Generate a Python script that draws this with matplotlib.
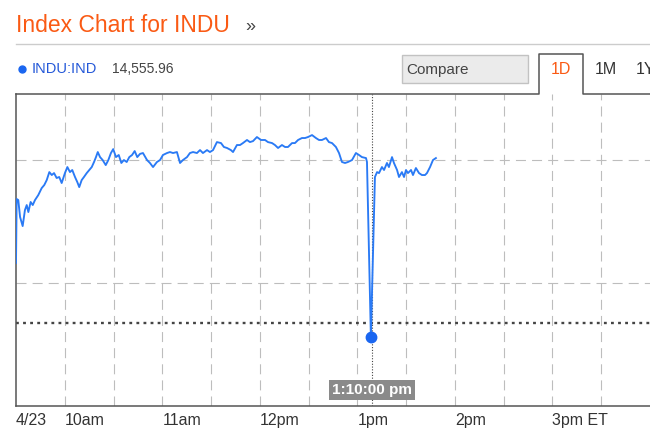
import matplotlib
matplotlib.use("Agg")
import matplotlib.pyplot as plt
from matplotlib.lines import Line2D
from matplotlib.patches import Rectangle

plt.rcParams['font.family'] = ['Liberation Sans', 'DejaVu Sans']

# minutes after 9:30 ET, Dow value
minutes = [0, 0.4, 1.4, 2.5, 4.1, 5.5, 6.6, 7.6, 9.0, 10.3, 11.7, 13.7, 15.8, 17.4,
           18.9, 20.5, 22.0, 23.4, 25.0, 26.6, 28.1, 30.1, 31.6, 33.2, 34.6, 36.3,
           37.7, 38.9, 40.4, 41.8, 43.5, 45.1, 46.6, 48.0, 49.2, 50.3, 51.7, 53.3,
           55.2, 56.8, 58.4, 59.8, 61.5, 63.2, 64.8, 66.4, 68.1, 69.7, 71.4, 73.0,
           74.6, 76.3, 78.1, 80.6, 82.4, 84.3, 86.7, 88.6, 90.4, 92.9, 94.7, 96.6,
           99.0, 100.9, 102.7, 105.2, 107.0, 108.9, 111.3, 113.2, 115.0, 117.5,
           119.3, 121.2, 123.6, 126.1, 127.9, 129.8, 132.2, 133.5, 135.9, 137.8,
           139.6, 142.1, 143.9, 145.8, 148.2, 150.7, 153.2, 155.0, 157.5, 159.3,
           161.2, 163.6, 165.5, 167.3, 169.8, 171.6, 173.5, 175.9, 177.8, 179.6,
           182.1, 184.5, 186.4, 188.2, 190.7, 192.5, 194.4, 196.8, 198.7, 200.5,
           202.4, 204.2, 206.7, 209.1, 211.0, 212.8, 215.3, 215.9, 218.3, 220.8,
           222.1, 223.3, 225.1, 226.4, 228.2, 229.4, 231.3, 232.5, 234.4, 235.6,
           237.4, 238.7, 239.9, 241.1, 243.0, 244.2, 246.0, 247.9, 249.7, 251.6,
           252.8, 254.7, 256.5, 258.3]
values = [14616.3, 14668.3, 14667.5, 14653.7, 14646.3, 14659.3, 14663.4, 14657.7,
          14665.9, 14663.4, 14667.5, 14671.5, 14677.2, 14679.7, 14683.7, 14690.2,
          14687.8, 14689.4, 14685.4, 14686.2, 14681.3, 14689.4, 14694.3, 14690.2,
          14691.9, 14686.2, 14682.1, 14678.0, 14683.7, 14686.2, 14689.4, 14691.9,
          14694.3, 14698.4, 14702.4, 14706.5, 14702.4, 14700.0, 14695.9, 14700.0,
          14705.7, 14708.9, 14702.4, 14704.1, 14697.6, 14700.0, 14698.4, 14702.4,
          14704.1, 14707.3, 14702.4, 14705.0, 14705.7, 14700.0, 14697.6, 14694.3,
          14698.4, 14700.0, 14704.1, 14705.7, 14706.5, 14705.7, 14706.5, 14697.6,
          14700.0, 14702.4, 14705.7, 14706.5, 14705.7, 14708.1, 14705.7, 14708.1,
          14706.5, 14708.1, 14714.6, 14713.8, 14710.6, 14709.8, 14708.1, 14706.5,
          14712.2, 14712.2, 14713.8, 14716.3, 14714.6, 14715.4, 14718.7, 14716.3,
          14716.3, 14714.6, 14713.8, 14712.2, 14709.8, 14712.2, 14710.6, 14710.6,
          14713.8, 14713.8, 14716.3, 14717.9, 14717.9, 14718.7, 14720.3, 14717.9,
          14716.3, 14716.3, 14717.9, 14714.6, 14713.8, 14710.6, 14705.7, 14698.4,
          14697.6, 14698.4, 14700.0, 14705.7, 14704.1, 14702.4, 14701.6, 14698.4,
          14555.96, 14686.2, 14690.2, 14689.4, 14694.3, 14691.9, 14697.6, 14694.3,
          14702.4, 14697.6, 14691.9, 14686.2, 14690.2, 14686.2, 14691.9, 14689.4,
          14691.9, 14687.8, 14693.5, 14689.4, 14687.8, 14687.8, 14689.4, 14694.3,
          14700.0, 14701.6]

prev_close = 14567.17
cursor_time = 219.0
low_time = 218.3
low_value = 14555.96

tick_pos = [0, 30, 90, 150, 210, 270, 330]
tick_labels = ['4/23', '10am', '11am', '12pm', '1pm', '2pm', '3pm ET']
grid_x = [30, 60, 90, 120, 150, 180, 210, 240, 270, 300, 330, 360]
grid_y = [14600, 14700]

W, H = 650, 433
fig = plt.figure(figsize=(6.5, 4.33), dpi=100)


def fx(px):
    return px / W


def fy(py):
    return 1 - py / H


ax = fig.add_axes([fx(16), fy(406), fx(650) - fx(16), fy(94) - fy(406)])
ax.set_xlim(0, 390)
ax.set_ylim(14500, 14753.7)

for g in grid_x:
    ax.axvline(g, color='#bdbdbd', lw=0.8, ls=(0, (9, 5.5)), zorder=1)
for g in grid_y:
    ax.axhline(g, color='#bdbdbd', lw=0.8, ls=(0, (9, 5.5)), zorder=1)

ax.axhline(prev_close, color='#444444', lw=1.7, ls=(0, (1.2, 1.8)), zorder=2)
ax.axvline(cursor_time, color='#444444', lw=0.8, ls=(0, (1, 1.5)), zorder=2)

ax.plot(minutes, values, color='#2a7af5', lw=1.35, zorder=3)
ax.plot([low_time], [low_value], 'o', color='#1a66f0', ms=7.5, zorder=4)

ax.text(cursor_time, 14513, '1:10:00 pm', ha='center', va='center', color='white',
        fontsize=11, fontweight='bold', zorder=5,
        bbox=dict(boxstyle='square,pad=0.22', fc='#8a8a8a', ec='none'))

ax.set_xticks(tick_pos)
ax.set_xticklabels(tick_labels, ha='left', fontsize=11.5, color='#333333')
ax.set_yticks(grid_y)
ax.set_yticklabels([])
ax.tick_params(length=0, pad=5)
for s in ['top', 'right']:
    ax.spines[s].set_visible(False)
for s in ['left', 'bottom']:
    ax.spines[s].set_color('#555555')
    ax.spines[s].set_linewidth(1.1)

# header
fig.text(fx(16), fy(26), 'Index Chart for INDU', color='#fa5a14', fontsize=16.5,
         va='center', ha='left')
fig.text(fx(245), fy(27), '»', color='#444444', fontsize=13, va='center', ha='left')
fig.add_artist(Line2D([fx(16), fx(650)], [fy(44), fy(44)], color='#cccccc', lw=1))

fig.add_artist(Line2D([fx(22)], [fy(69)], marker='o', ms=5, color='#1a66f0', ls='none'))
fig.text(fx(32), fy(69), 'INDU:IND', color='#2458d8', fontsize=10.5, va='center', ha='left')
fig.text(fx(112), fy(69), '14,555.96', color='#444444', fontsize=10, va='center', ha='left')

fig.add_artist(Rectangle((fx(402), fy(83)), fx(528) - fx(402), fy(55) - fy(83),
                         fc='#ebebeb', ec='#c2c2c2', lw=1))
fig.text(fx(406), fy(70), 'Compare', color='#444444', fontsize=11, va='center', ha='left')

# top border with the 1D tab
fig.add_artist(Line2D([fx(16), fx(539), fx(539), fx(583), fx(583), fx(650)],
                      [fy(94), fy(94), fy(54), fy(54), fy(94), fy(94)],
                      color='#555555', lw=1.1))
fig.text(fx(561), fy(70), '1D', color='#fa5a14', fontsize=11.5, va='center', ha='center')
fig.text(fx(595), fy(69), '1M', color='#333333', fontsize=11.5, va='center', ha='left')
fig.text(fx(636), fy(69), '1Y', color='#333333', fontsize=11.5, va='center', ha='left')

fig.savefig('out.png', dpi=100)
